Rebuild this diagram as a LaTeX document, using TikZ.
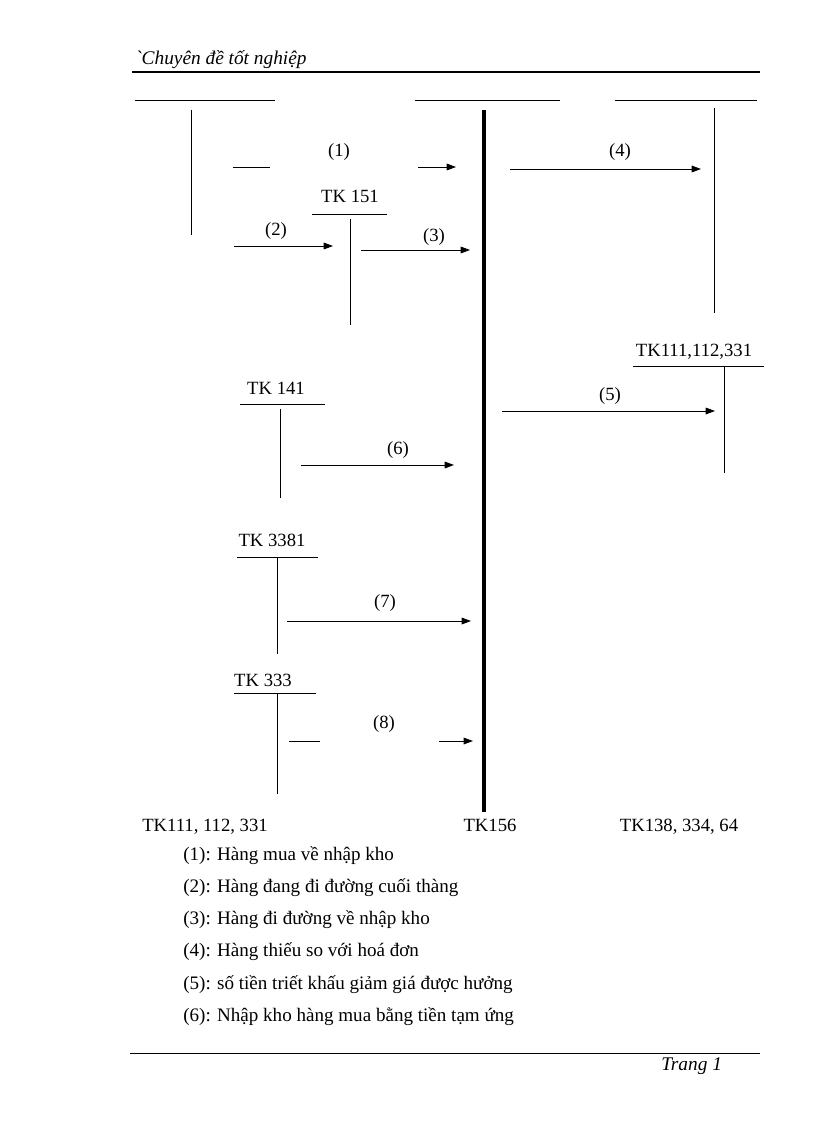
\documentclass[tikz,border=0pt]{standalone}
\usepackage{fontspec}
\setmainfont{Liberation Serif}
\newfontfamily\hdrfont[Ligatures=TeXOff]{Liberation Serif}
\usetikzlibrary{arrows.meta}
\begin{document}
\begin{tikzpicture}[x=0.75pt,y=-0.75pt,
  lbl/.style={inner sep=0pt,font=\fontsize{14}{16}\selectfont},
  thin/.style={line width=0.7pt},
  thick156/.style={line width=3pt},
  arr/.style={line width=0.7pt,-{Triangle[length=7pt,width=5pt]}},
  legend/.style={inner sep=0pt,anchor=west,font=\fontsize{14.3}{16}\selectfont}]
\useasboundingbox (0,0) rectangle (816,1123);
% header / footer
\node[inner sep=0pt,anchor=west,font=\hdrfont\fontsize{14.5}{16}\selectfont\itshape] (hdr) at (135,60) {`Chuyên đề tốt nghiệp};
\coordinate (hl1) at (132,72); \coordinate (hl2) at (760,72);
\draw[line width=1.6pt] (hl1) -- (hl2);
\coordinate (fl1) at (130,1053); \coordinate (fl2) at (760,1053);
\draw[thin] (fl1) -- (fl2);
\node[inner sep=0pt,anchor=west,font=\fontsize{14.5}{16}\selectfont\itshape] (pg) at (661,1066) {Trang 1};
% main T accounts
\coordinate (Lh1) at (135,100); \coordinate (Lh2) at (275,100);
\coordinate (Lv1) at (191,110); \coordinate (Lv2) at (191,235);
\draw[thin] (Lh1) -- (Lh2); \draw[thin] (Lv1) -- (Lv2);
\coordinate (Mh1) at (415,100); \coordinate (Mh2) at (560,100);
\coordinate (Mv1) at (484,110); \coordinate (Mv2) at (484,812);
\draw[thin] (Mh1) -- (Mh2); \draw[thick156] (Mv1) -- (Mv2);
\coordinate (Rh1) at (615,100); \coordinate (Rh2) at (757,100);
\coordinate (Rv1) at (714,108); \coordinate (Rv2) at (714,313);
\draw[thin] (Rh1) -- (Rh2); \draw[thin] (Rv1) -- (Rv2);
% TK 151
\node[lbl] (t151) at (350,196) {TK 151};
\coordinate (a1) at (312,214); \coordinate (a2) at (387,214);
\coordinate (a3) at (350,219); \coordinate (a4) at (350,325);
\draw[thin] (a1) -- (a2); \draw[thin] (a3) -- (a4);
% TK111,112,331 right
\node[lbl] (t111r) at (694,352) {TK111,112,331};
\coordinate (b1) at (633,366); \coordinate (b2) at (764,366);
\coordinate (b3) at (724,367); \coordinate (b4) at (724,473);
\draw[thin] (b1) -- (b2); \draw[thin] (b3) -- (b4);
% TK 141
\node[lbl] (t141) at (276,388) {TK 141};
\coordinate (c1) at (240,404); \coordinate (c2) at (325,404);
\coordinate (c3) at (280,409); \coordinate (c4) at (280,498);
\draw[thin] (c1) -- (c2); \draw[thin] (c3) -- (c4);
% TK 3381
\node[lbl] (t3381) at (272,540) {TK 3381};
\coordinate (d1) at (237,557); \coordinate (d2) at (318,557);
\coordinate (d3) at (277,557); \coordinate (d4) at (277,654);
\draw[thin] (d1) -- (d2); \draw[thin] (d3) -- (d4);
% TK 333
\node[lbl] (t333) at (263,680) {TK 333};
\coordinate (e1) at (234,693); \coordinate (e2) at (316,693);
\coordinate (e3) at (277,693); \coordinate (e4) at (277,794);
\draw[thin] (e1) -- (e2); \draw[thin] (e3) -- (e4);
% arrows
\coordinate (p1a) at (233,167); \coordinate (p1b) at (270,167);
\coordinate (p1c) at (418,167); \coordinate (p1d) at (456,167);
\draw[thin] (p1a) -- (p1b); \draw[arr] (p1c) -- (p1d);
\node[lbl] (n1) at (339,152) {(1)};
\coordinate (p4a) at (510,169); \coordinate (p4b) at (701,169);
\draw[arr] (p4a) -- (p4b);
\node[lbl] (n4) at (620,152) {(4)};
\coordinate (p2a) at (234,246); \coordinate (p2b) at (333,246);
\draw[arr] (p2a) -- (p2b);
\node[lbl] (n2) at (276,231) {(2)};
\coordinate (p3a) at (361,250); \coordinate (p3b) at (470,250);
\draw[arr] (p3a) -- (p3b);
\node[lbl] (n3) at (434,237) {(3)};
\coordinate (p5a) at (502,411); \coordinate (p5b) at (715,411);
\draw[arr] (p5a) -- (p5b);
\node[lbl] (n5) at (610,396) {(5)};
\coordinate (p6a) at (301,465); \coordinate (p6b) at (454,465);
\draw[arr] (p6a) -- (p6b);
\node[lbl] (n6) at (398,450) {(6)};
\coordinate (p7a) at (287,621); \coordinate (p7b) at (471,621);
\draw[arr] (p7a) -- (p7b);
\node[lbl] (n7) at (385,603) {(7)};
\coordinate (p8a) at (289,741); \coordinate (p8b) at (320,741);
\coordinate (p8c) at (439,741); \coordinate (p8d) at (473,741);
\draw[thin] (p8a) -- (p8b); \draw[arr] (p8c) -- (p8d);
\node[lbl] (n8) at (384,724) {(8)};
% bottom labels
\node[lbl,anchor=base] (bl) at (205,831) {TK111, 112, 331};
\node[lbl,anchor=base] (bm) at (490,831) {TK156};
\node[lbl,anchor=base] (br) at (679,831) {TK138, 334, 64};
% legend
\node[legend] (g1) at (183,856) {(1): Hàng mua về nhập kho};
\node[legend] (g2) at (183,888) {(2): Hàng đang đi đường cuối thàng};
\node[legend] (g3) at (183,920) {(3): Hàng đi đường về nhập kho};
\node[legend] (g4) at (183,952) {(4): Hàng thiếu so với hoá đơn};
\node[legend] (g5) at (183,985) {(5): số tiền triết khấu giảm giá được hưởng};
\node[legend] (g6) at (183,1017) {(6): Nhập kho hàng mua bằng tiền tạm ứng};
\end{tikzpicture}
\end{document}
